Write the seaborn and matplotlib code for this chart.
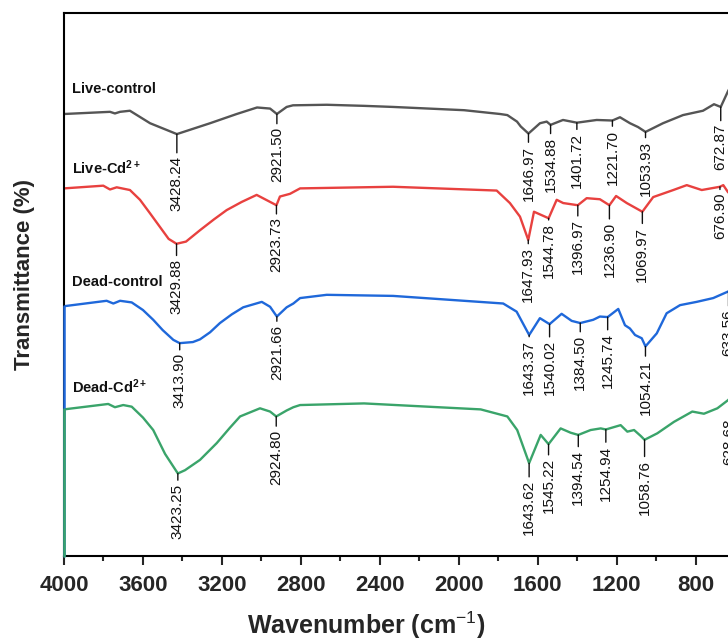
import numpy as np
import pandas as pd
import matplotlib
matplotlib.use("Agg")
import matplotlib.pyplot as plt
import seaborn as sns

# FTIR spectra (wavenumber in cm-1, transmittance in arbitrary stacked units)
live_control_wn = [4000, 3767, 3742, 3716, 3666, 3564, 3428.24, 3260, 3125, 3022, 2956, 2921.50, 2872, 2840,
                   2669, 2480, 2333, 1973, 1791, 1754, 1705, 1686, 1646.97, 1588.6, 1554.6, 1534.88, 1472,
                   1401.72, 1301.3, 1221.70, 1183.3, 1132.6, 1092, 1053.93, 965.5, 864.1, 762.8, 707,
                   672.87, 636, 600]
live_control_t = [81.4, 81.8, 81.5, 81.8, 82.0, 79.7, 77.7, 79.7, 81.4, 82.6, 82.4, 81.4, 82.7, 83.0,
                  83.1, 82.9, 82.7, 82.1, 81.4, 81.2, 80.0, 79.1, 77.8, 79.7, 80.0, 79.4, 80.3,
                  79.8, 80.3, 80.2, 80.8, 79.7, 79.0, 78.1, 79.7, 81.2, 82.0, 83.2,
                  82.7, 85.6, 88.0]

live_cd_wn = [4000, 3801, 3767, 3733, 3666, 3615, 3564, 3514, 3470, 3429.88, 3382, 3311, 3240, 3176, 3100,
              3024, 2923.73, 2906, 2855, 2804, 2333, 1808, 1741, 1690, 1647.93, 1619, 1544.78, 1504,
              1471, 1396.97, 1352, 1285, 1236.90, 1203, 1149, 1069.97, 1015, 913, 845, 769, 676.90,
              660, 636, 600]
live_cd_t = [67.7, 68.2, 67.5, 67.9, 67.4, 65.6, 63.1, 60.6, 58.4, 57.5, 57.9, 60.0, 62.0, 63.7, 65.2,
             66.5, 64.6, 66.2, 66.7, 67.7, 68.0, 67.3, 65.0, 62.5, 58.2, 63.4, 62.2, 65.6,
             65.0, 64.6, 65.9, 65.7, 64.6, 66.3, 65.0, 63.4, 66.1, 67.4, 68.3, 67.4, 68.0,
             68.3, 67.0, 66.0]

dead_control_wn = [4000, 3784, 3750, 3716, 3657, 3600, 3548, 3500, 3446, 3413.90, 3347, 3311, 3260, 3210,
                   3150, 3092, 2998, 2956, 2921.66, 2872, 2838, 2804, 2669, 2333, 1775, 1707, 1643.37,
                   1589, 1540.02, 1479, 1428, 1384.50, 1319, 1285, 1245.74, 1192, 1158, 1133, 1107, 1073,
                   1054.21, 997, 947, 879, 795, 711, 636, 600]
dead_control_t = [46.0, 47.0, 46.5, 47.0, 46.7, 45.3, 43.5, 41.6, 39.8, 39.2, 39.4, 39.9, 41.2, 42.9,
                  44.5, 45.8, 46.8, 45.9, 44.1, 45.8, 46.5, 47.5, 48.1, 47.9, 46.5, 45.0, 40.7,
                  43.8, 42.7, 44.6, 43.3, 42.9, 43.5, 44.1, 44.0, 45.5, 42.5, 41.9, 40.7, 40.1,
                  38.6, 41.0, 44.7, 46.2, 46.8, 47.5, 48.7, 49.5]

dead_cd_wn = [4000, 3776, 3742, 3700, 3657, 3600, 3548, 3488, 3423.25, 3387, 3311, 3226, 3160, 3108, 3007,
              2956, 2924.80, 2872, 2838, 2804, 2480, 1889, 1754, 1704, 1643.62, 1585, 1545.22, 1484, 1433,
              1394.54, 1332, 1281, 1254.94, 1180, 1146, 1112, 1078, 1058.76, 994, 910, 817, 758, 690,
              636, 600]
dead_cd_t = [27.0, 28.0, 27.4, 27.8, 27.5, 25.5, 23.2, 18.8, 15.2, 15.8, 17.7, 20.8, 23.6, 25.7, 27.2,
             26.6, 25.7, 26.8, 27.4, 27.8, 28.1, 27.0, 25.7, 23.2, 17.1, 22.3, 20.6, 23.5, 22.7,
             22.3, 23.2, 23.5, 23.3, 24.1, 22.9, 23.2, 22.1, 21.4, 22.6, 24.7, 26.6, 26.2, 27.2,
             28.7, 30.0]

samples = ["Live-control", "Live-$\\mathbf{Cd^{2+}}$", "Dead-control", "Dead-$\\mathbf{Cd^{2+}}$"]
wavenumbers = [live_control_wn, live_cd_wn, dead_control_wn, dead_cd_wn]
transmittance = [live_control_t, live_cd_t, dead_control_t, dead_cd_t]

# labelled peaks for every spectrum
peaks = [
    [3428.24, 2921.50, 1646.97, 1534.88, 1401.72, 1221.70, 1053.93, 672.87],
    [3429.88, 2923.73, 1647.93, 1544.78, 1396.97, 1236.90, 1069.97, 676.90],
    [3413.90, 2921.66, 1643.37, 1540.02, 1384.50, 1245.74, 1054.21, 633.56],
    [3423.25, 2924.80, 1643.62, 1545.22, 1394.54, 1254.94, 1058.76, 628.68],
]
# drop-line lengths (pixels) for the peak labels
drops = [
    [22, 13, 12, 12, 10, 9, 9, 17],
    [15, 12, 7, 5, 14, 17, 15, 6],
    [10, 8, 5, 16, 12, 16, 13, 18],
    [10, 13, 17, 14, 15, 16, 20, 20],
]
label_y = [86.0, 71.6, 50.5, 31.2]

colors = ["#555555", "#E8413F", "#1F68DA", "#3AA46A"]

df = pd.concat([pd.DataFrame({"wn": w, "T": t, "sample": s})
                for w, t, s in zip(wavenumbers, transmittance, samples)], ignore_index=True)

sns.set_style("ticks")
plt.rcParams["font.family"] = ["Liberation Sans", "DejaVu Sans"]
plt.rcParams["mathtext.fontset"] = "custom"
plt.rcParams["mathtext.rm"] = "Liberation Sans"
plt.rcParams["mathtext.bf"] = "Liberation Sans:bold"

fig = plt.figure(figsize=(7.28, 6.4), dpi=100)
ax = fig.add_axes([64 / 728, 84 / 640, 710.6 / 728, 543 / 640])

sns.lineplot(data=df, x="wn", y="T", hue="sample", palette=colors, linewidth=1.7,
             legend=False, ax=ax, estimator=None)

# the blue and green spectra run down the left axis in the original
for i in (2, 3):
    ax.plot([4000, 4000], [0, transmittance[i][0]], color=colors[i], lw=1.8, zorder=5, clip_on=False)

for i, s in enumerate(samples):
    ax.text(3962, label_y[i], s, fontsize=10.5, fontweight="bold", ha="left", va="center", color="#111111")
    for pk, d in zip(peaks[i], drops[i]):
        yv = np.interp(pk, wavenumbers[i][::-1], transmittance[i][::-1])
        ax.annotate(f"{pk:.2f}", xy=(pk, yv), xytext=(0, -d), textcoords="offset pixels",
                    rotation=90, ha="center", va="top", fontsize=11, color="#111111",
                    arrowprops=dict(arrowstyle="-", color="#111111", lw=1.0, shrinkA=0, shrinkB=0))

ax.set_xlim(4000, 400)
ax.set_ylim(0, 100)
ax.set_xticks(np.arange(4000, 799, -400))
ax.set_xticks(np.arange(3800, 599, -400), minor=True)
ax.set_yticks([])
ax.tick_params(axis="x", which="major", direction="out", length=6.5, width=1.5, pad=7, labelsize=16)
ax.tick_params(axis="x", which="minor", direction="out", length=3.5, width=1.5)
for lab in ax.get_xticklabels():
    lab.set_fontweight("bold")
for sp in ax.spines.values():
    sp.set_linewidth(1.5)
    sp.set_color("black")

ax.set_xlabel("Wavenumber (cm$^{-1}$)", fontsize=18, fontweight="bold")
ax.set_ylabel("Transmittance (%)", fontsize=16, fontweight="bold")
ax.xaxis.set_label_coords(0.425, -0.098)
ax.yaxis.set_label_coords(-0.041, 0.519)

fig.savefig("out.png", dpi=100)
